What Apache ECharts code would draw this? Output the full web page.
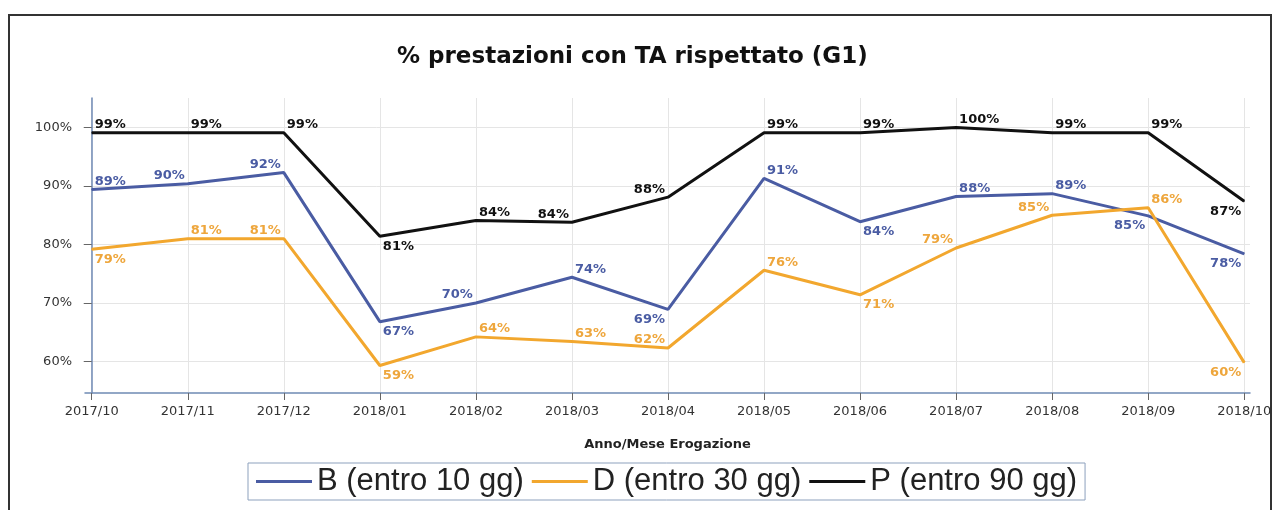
<!DOCTYPE html>
<html>
<head>
<meta charset="utf-8">
<script src="https://cdn.jsdelivr.net/npm/echarts@6/dist/echarts.min.js"></script>
<style>
  html, body { margin: 0; padding: 0; background: #ffffff; }
  #chart { width: 1281px; height: 510px; }
</style>
</head>
<body>
<div id="chart"></div>
<script>
// Months of delivery (x axis)
const months = ['2017/10', '2017/11', '2017/12', '2018/01', '2018/02', '2018/03', '2018/04',
                '2018/05', '2018/06', '2018/07', '2018/08', '2018/09', '2018/10'];

// Share of services delivered within the target time, per priority class (%)
const seriesNames = ['B (entro 10 gg)', 'D (entro 30 gg)', 'P (entro 90 gg)'];
const valuesB = [89.4, 90.4, 92.3, 66.8, 70.0, 74.4, 68.9, 91.3, 83.9, 88.2, 88.7, 84.9, 78.4];
const valuesD = [79.2, 81.0, 81.0, 59.3, 64.2, 63.4, 62.3, 75.6, 71.4, 79.4, 85.0, 86.3, 59.8];
const valuesP = [99.1, 99.1, 99.1, 81.4, 84.1, 83.8, 88.1, 99.1, 99.1, 100.0, 99.1, 99.1, 87.4];

// Y axis tick values (%)
const yTicks = [60, 70, 80, 90, 100];

// Where each value label sits relative to its point: t/b = above/below, l/r = left/right
const placeB = ['tr', 'tl', 'tl', 'br', 'tl', 'tr', 'bl', 'tr', 'br', 'tr', 'tr', 'bl', 'bl'];
const placeD = ['br', 'tr', 'tl', 'br', 'tr', 'tr', 'tl', 'tr', 'br', 'tl', 'tl', 'tr', 'bl'];
const placeP = ['tr', 'tr', 'tr', 'br', 'tr', 'tl', 'tl', 'tr', 'tr', 'tr', 'tr', 'tr', 'bl'];

const colors = ['#4a5ca3', '#f2a72e', '#111111'];
const labelColors = ['#4a5ca3', '#eea63c', '#111111'];
const axisBlue = '#6f8ab4';
const gridGray = '#e5e5e5';

function buildData(values, places) {
  return values.map(function (v, i) {
    const p = places[i];
    const above = p[0] === 't';
    const right = p[1] === 'r';
    return {
      value: [i, v],
      label: {
        position: above ? 'top' : 'bottom',
        distance: above ? 1 : 3,
        align: right ? 'left' : 'right',
        offset: [right ? 3 : -3, 0]
      }
    };
  });
}

function makeSeries(idx, values, places) {
  return {
    name: seriesNames[idx],
    type: 'line',
    data: buildData(values, places),
    symbol: 'circle',
    symbolSize: 1,
    showSymbol: true,
    itemStyle: { color: colors[idx] },
    lineStyle: { color: colors[idx], width: 3 },
    label: {
      show: true,
      formatter: function (p) { return Math.round(p.value[1]) + '%'; },
      fontFamily: 'DejaVu Sans',
      fontWeight: 'bold',
      fontSize: 13,
      color: labelColors[idx]
    },
    emphasis: { disabled: true }
  };
}

const chart = echarts.init(document.getElementById('chart'), null, { renderer: 'canvas' });

chart.setOption({
  animation: false,
  backgroundColor: '#ffffff',
  title: {
    text: '% prestazioni con TA rispettato (G1)',
    left: 392,
    top: 41,
    textStyle: {
      fontFamily: 'DejaVu Sans',
      fontWeight: 'bold',
      fontSize: 23,
      color: '#111111'
    }
  },
  graphic: [{
    type: 'rect',
    shape: { x: 9, y: 15, width: 1262, height: 520 },
    style: { fill: 'none', stroke: '#333333', lineWidth: 2 },
    silent: true
  }],
  legend: {
    data: seriesNames,
    left: 248,
    top: 463,
    padding: [3, 8],
    itemGap: 8,
    itemWidth: 56,
    itemHeight: 3,
    icon: 'rect',
    borderColor: '#8da1bd',
    borderWidth: 1,
    textStyle: {
      fontFamily: 'Liberation Sans',
      fontSize: 31,
      color: '#222222'
    }
  },
  grid: { left: 85, right: 31, top: 98, bottom: 117 },
  xAxis: {
    type: 'value',
    min: -0.07,
    max: 12.06,
    name: 'Anno/Mese Erogazione',
    nameLocation: 'middle',
    nameGap: 45,
    nameTextStyle: {
      fontFamily: 'DejaVu Sans',
      fontWeight: 'bold',
      fontSize: 13,
      color: '#222222'
    },
    axisLine: { show: true, lineStyle: { color: axisBlue, width: 1.5 } },
    axisTick: {
      show: true,
      length: 7,
      customValues: months.map(function (m, i) { return i; }),
      lineStyle: { color: '#666666' }
    },
    axisLabel: {
      customValues: months.map(function (m, i) { return i; }),
      formatter: function (v) { return months[Math.round(v)]; },
      fontFamily: 'DejaVu Sans',
      fontSize: 13,
      color: '#333333',
      margin: 12
    },
    splitLine: { show: true, lineStyle: { color: gridGray, width: 1 } }
  },
  yAxis: {
    type: 'value',
    min: 54.6,
    max: 105.06,
    axisLine: { show: true, lineStyle: { color: axisBlue, width: 1.5 } },
    axisTick: {
      show: true,
      length: 8,
      customValues: yTicks,
      lineStyle: { color: '#666666' }
    },
    axisLabel: {
      customValues: yTicks,
      formatter: function (v) { return v + '%'; },
      fontFamily: 'DejaVu Sans',
      fontSize: 13,
      color: '#333333',
      margin: 13
    },
    splitLine: { show: true, lineStyle: { color: gridGray, width: 1 } }
  },
  series: [
    makeSeries(0, valuesB, placeB),
    makeSeries(1, valuesD, placeD),
    makeSeries(2, valuesP, placeP)
  ]
});
</script>
</body>
</html>
